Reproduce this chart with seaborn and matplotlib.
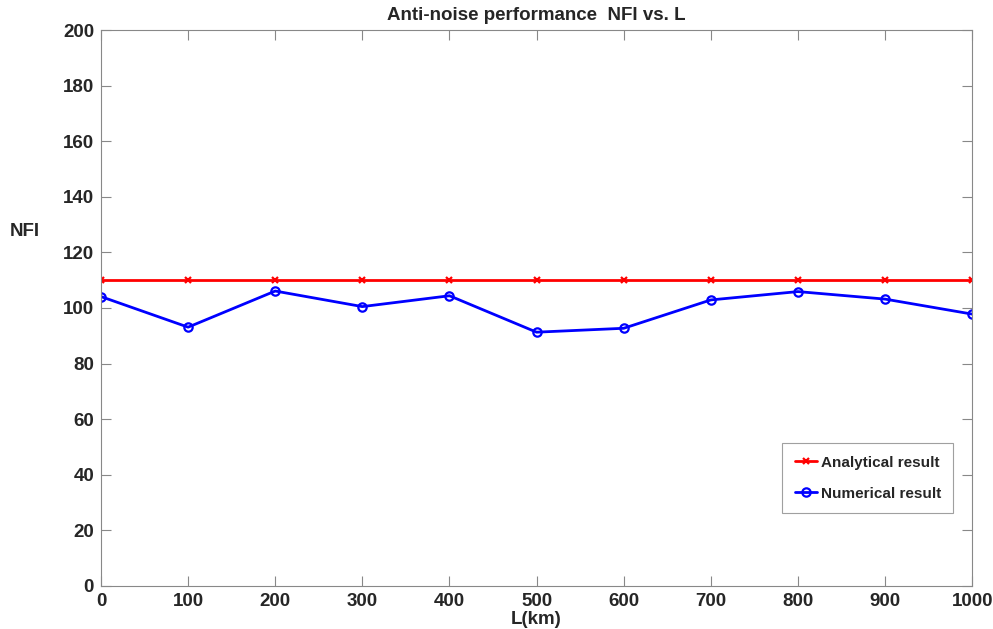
import matplotlib
matplotlib.use("Agg")
import matplotlib.pyplot as plt
import seaborn as sns

# Fiber length (km) and noise figure improvement values
lengths = [0, 100, 200, 300, 400, 500, 600, 700, 800, 900, 1000]
analytical = [110, 110, 110, 110, 110, 110, 110, 110, 110, 110, 110]
numerical = [104.1, 93.1, 106.1, 100.5, 104.4, 91.3, 92.7, 102.9, 105.9, 103.2, 97.8]
x_ticks = [0, 100, 200, 300, 400, 500, 600, 700, 800, 900, 1000]
y_ticks = [0, 20, 40, 60, 80, 100, 120, 140, 160, 180, 200]

sns.set_theme(style="white")
plt.rcParams["font.family"] = ["Liberation Sans", "DejaVu Sans"]
plt.rcParams["font.weight"] = "bold"

fig = plt.figure(figsize=(9.93, 6.29), dpi=100)
ax = fig.add_axes([0.1017, 0.0684, 0.8773, 0.8839])

sns.lineplot(x=lengths, y=analytical, color="#ff0000", marker="x",
             linewidth=2, markersize=5, markeredgewidth=1.6,
             markeredgecolor="#ff0000",
             label="Analytical result", ax=ax)
sns.lineplot(x=lengths, y=numerical, color="#0000ff", marker="o",
             linewidth=2, markersize=6, markeredgewidth=1.6,
             markerfacecolor="none", markeredgecolor="#0000ff",
             label="Numerical result", ax=ax)

ax.set_xlim(0, 1000)
ax.set_ylim(0, 200)
ax.set_xticks(x_ticks)
ax.set_yticks(y_ticks)
ax.tick_params(direction="in", length=7, width=0.8, color="#888888",
               left=True, bottom=True, top=True, right=True,
               labelsize=13.5, labelcolor="#262626", pad=5)
for lab in ax.get_xticklabels() + ax.get_yticklabels():
    lab.set_fontweight("bold")
for sp in ax.spines.values():
    sp.set_color("#888888")
    sp.set_linewidth(0.8)

ax.set_title("Anti-noise performance  NFI vs. L", fontsize=13.5, fontweight="bold", pad=7)
ax.set_xlabel("L(km)", fontsize=13.5, fontweight="bold", labelpad=1)
ax.set_ylabel("NFI", fontsize=13.5, fontweight="bold", rotation=0, labelpad=0)
ax.yaxis.set_label_coords(-0.088, 0.622)

leg = ax.legend(loc="lower right", bbox_to_anchor=(0.978, 0.131), frameon=True,
                fancybox=False, edgecolor="#888888",
                prop={"weight": "bold", "size": 11}, handlelength=1.5,
                handleheight=0.9, borderpad=0.8, labelspacing=1.1,
                handletextpad=0.2, borderaxespad=0)
leg.get_frame().set_linewidth(0.8)

fig.savefig("out.png", dpi=100)
